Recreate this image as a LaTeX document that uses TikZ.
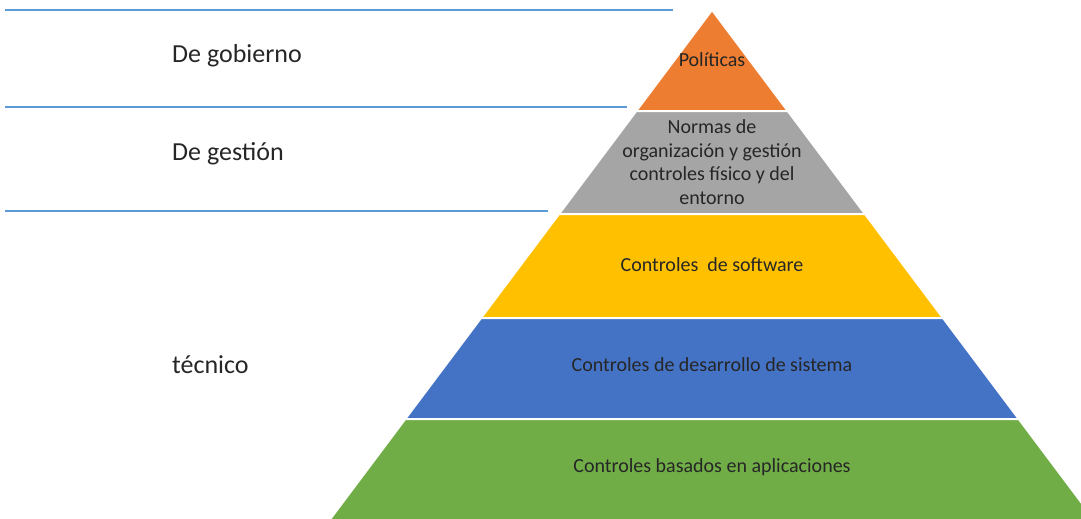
\documentclass[tikz,border=0pt]{standalone}
\usepackage{fontspec}
\setmainfont{Carlito}
\usetikzlibrary{calc}
\definecolor{polorange}{RGB}{237,125,49}
\definecolor{normgray}{RGB}{165,165,165}
\definecolor{softyellow}{RGB}{255,192,0}
\definecolor{sysblue}{RGB}{68,114,196}
\definecolor{appgreen}{RGB}{112,173,71}
\definecolor{rulerblue}{RGB}{91,155,213}
\def\pyrlayer[#1](#2:#3){\draw[#1] ({\ax-\sl*(#2-\ay)},#2) -- ({\ax+\sl*(#2-\ay)},#2) -- ({\ax+\sl*(#3-\ay)},#3) -- ({\ax-\sl*(#3-\ay)},#3) -- cycle;}
\tikzset{
  pyrtext/.style={text=black!85, align=center, font=\fontsize{20}{23.5}\selectfont},
  sidetext/.style={anchor=west, inner sep=0pt, text=black!85, font=\fontsize{26}{30}\selectfont},
  ruler/.style={draw=rulerblue, line width=1.4pt}
}

\begin{document}
\begin{tikzpicture}[x=1pt,y=-1pt]
				%%%%% START %%%%%
				\def\ax{712}
				\def\ay{10}
				\def\sl{0.75}
				\def\xlab{172}
				\useasboundingbox (0,0) rectangle (1081,519);
				\clip (0,0) rectangle (1081,519);
				
				\pyrlayer[fill=polorange, draw=white, line width=2pt](10:111)
				\pyrlayer[fill=normgray, draw=white, line width=2pt](111:214)
				\pyrlayer[fill=softyellow, draw=white, line width=2pt](214:318)
				\pyrlayer[fill=sysblue, draw=white, line width=2pt](318:419)
				\pyrlayer[fill=appgreen, draw=white, line width=2pt](419:530)
				
				\node[pyrtext] (pol) at (\ax,60) {Políticas};
				\node[pyrtext] (norm) at (\ax,162) {Normas de\\organización y gestión\\controles físico y del\\entorno};
				\node[pyrtext] (soft) at (\ax,265) {Controles~~de software};
				\node[pyrtext] (sis) at (\ax,365) {Controles de desarrollo de sistema};
				\node[pyrtext] (app) at (\ax,467) {Controles basados en aplicaciones};
				
				\draw[ruler] (5,10) -- (673,10);
				\draw[ruler] (5,107) -- (627,107);
				\draw[ruler] (5,211) -- (548,211);
				
				\node[sidetext] (gob) at (\xlab,56) {De gobierno};
				\node[sidetext] (ges) at (\xlab,154) {De gestión};
				\node[sidetext] (tec) at (\xlab,365) {técnico};
				%%%%% END %%%%%
\end{tikzpicture}
\end{document}
